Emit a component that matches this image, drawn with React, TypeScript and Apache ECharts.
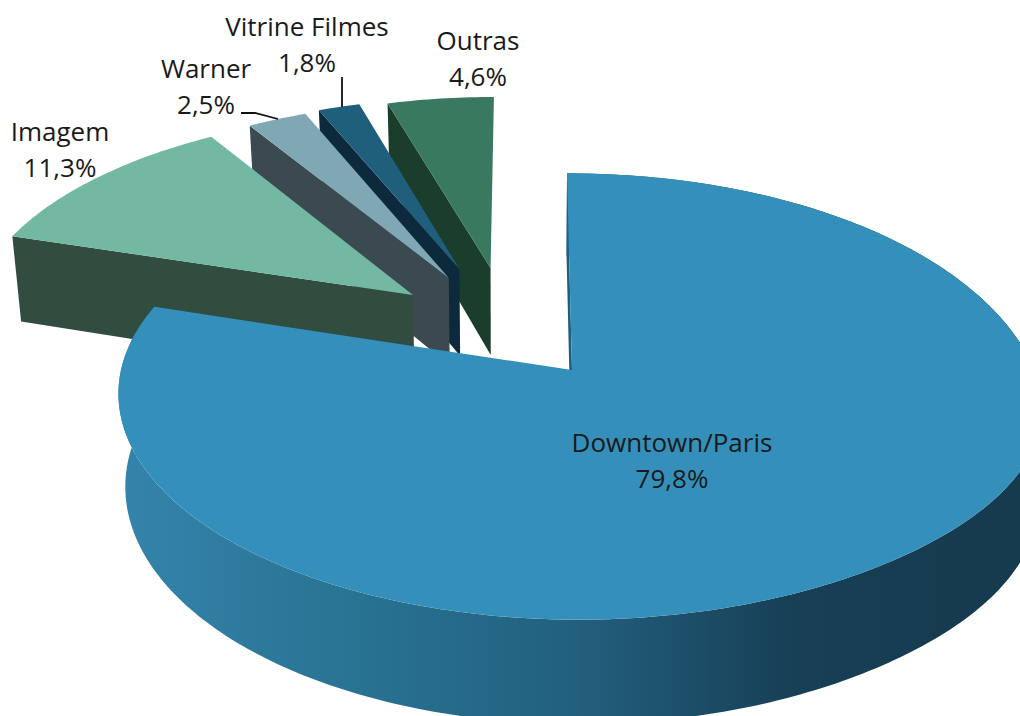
import React, { useEffect, useRef } from "react";
import * as echarts from "echarts";

const categories = ["Downtown/Paris", "Imagem", "Warner", "Vitrine Filmes", "Outras"];
const shares = [79.8, 11.3, 2.5, 1.8, 4.6];
const topColors = ["#3490BB", "#72B8A3", "#7FA8B4", "#1F5F7C", "#38795F"];
const wallColors = ["#1B5E7E", "#304D40", "#3B4A50", "#0D2A3D", "#1A3D2C"];
const explodeU = [0, -0.363, -0.282, -0.258, -0.185];
const explodeV = [0, 0.355, 0.44, 0.485, 0.49];
const sliceRadius = [1, 1.012, 0.99, 0.965, 0.965];
const labelX = [672, 60, 206, 307, 478];
const labelY = [460, 149, 86, 44, 58];
const leaders: number[][][] = [[], [], [[241, 113], [255, 113], [278, 119]], [[342, 77], [342, 107]], []];
const drawOrder = [4, 3, 2, 1, 0];

// Perspective model of the pie
const XC = 572, Y0 = 370, XV = 525, A = 451, B = 220, P = 0.1186, DEPTH = 92, XZ = 500, ZK = 0.018;

function project(u: number, v: number, z: number): number[] {
  const w = 1 / (1 + P * v);
  const x = XV + (XC - XV + A * u) * w;
  const y = Y0 - B * v * w + z * DEPTH * w;
  const k = x < XZ ? ZK : ZK * 0.4;
  return [XZ + (x - XZ) * (1 - k * z), y];
}

const total = shares.reduce((s, x) => s + x, 0);
function sliceAngles(i: number): number[] {
  let before = 0;
  for (let k = 0; k < i; k++) before += shares[k];
  return [(before / total) * Math.PI * 2, ((before + shares[i]) / total) * Math.PI * 2];
}

// The main slice's outline is slightly fuller on its right-hand side.
function radiusAt(i: number, t: number): number {
  if (i !== 0) return sliceRadius[i];
  const d = (t - (108 * Math.PI) / 180) / ((30 * Math.PI) / 180);
  return 1 + 0.035 * Math.exp(-d * d);
}

function rimPoint(i: number, t: number, z: number): number[] {
  const r = radiusAt(i, t);
  return project(explodeU[i] + r * Math.sin(t), explodeV[i] + r * Math.cos(t), z);
}

function arcPts(i: number, a0: number, a1: number, z: number): number[][] {
  const n = Math.max(4, Math.ceil(Math.abs(a1 - a0) * 60));
  const pts: number[][] = [];
  for (let k = 0; k <= n; k++) pts.push(rimPoint(i, a0 + ((a1 - a0) * k) / n, z));
  return pts;
}

const mainWallFill = new echarts.graphic.LinearGradient(
  118, 0, 1020, 0,
  [
    { offset: 0, color: "#3484AB" },
    { offset: 0.3, color: "#27708F" },
    { offset: 0.5, color: "#23607F" },
    { offset: 0.75, color: "#173F55" },
    { offset: 1, color: "#163A4E" },
  ],
  true
);

function renderSlice(_params: any, api: any) {
  const i = api.value(0) as number;
  const [a0, a1] = sliceAngles(i);
  const apexTop = project(explodeU[i], explodeV[i], 0);
  const apexBot = project(explodeU[i], explodeV[i], 1);
  const children: any[] = [];
  children.push({
    type: "polygon",
    shape: { points: [apexTop, rimPoint(i, a0, 0), rimPoint(i, a0, 1), apexBot] },
    style: { fill: wallColors[i] },
  });
  if (i === 0) {
    const top = arcPts(i, a0, a1, 0);
    const bot = arcPts(i, a0, a1, 1).reverse();
    children.push({
      type: "polygon",
      shape: { points: top.concat(bot) },
      style: { fill: mainWallFill },
    });
  }
  children.push({
    type: "polygon",
    shape: { points: [apexTop].concat(arcPts(i, a0, a1, 0)) },
    style: { fill: topColors[i] },
  });
  if (leaders[i].length) {
    children.push({
      type: "polyline",
      shape: { points: leaders[i] },
      style: { stroke: "#111111", lineWidth: 1.8, fill: "none" },
    });
  }
  children.push({
    type: "text",
    x: labelX[i],
    y: labelY[i],
    style: {
      text: categories[i] + "\n" + shares[i].toFixed(1).replace(".", ",") + "%",
      fill: "#1A1A1A",
      font: '26px "Open Sans"',
      lineHeight: 36,
      align: "center",
      verticalAlign: "middle",
    },
  });
  return { type: "group", children };
}

export default function App() {
  const ref = useRef<HTMLDivElement>(null);
  useEffect(() => {
    const chart = echarts.init(ref.current!, null, { renderer: "svg" });
    chart.setOption({
      animation: false,
      backgroundColor: "#ffffff",
      series: [
        {
          type: "custom",
          coordinateSystem: "none",
          silent: true,
          renderItem: renderSlice,
          data: drawOrder.map((i) => [i, shares[i]]),
        },
      ],
    });
    return () => chart.dispose();
  }, []);
  return <div ref={ref} style={{ position: "fixed", left: 0, top: 0, width: 1020, height: 716 }} />;
}
